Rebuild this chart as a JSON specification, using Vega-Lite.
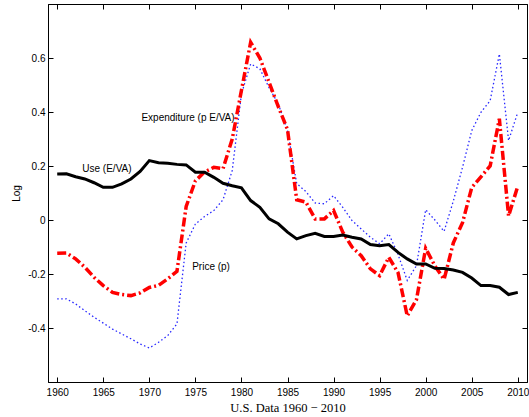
{
  "$schema": "https://vega.github.io/schema/vega-lite/v6.json",
  "width": 479,
  "height": 378,
  "autosize": "none",
  "padding": {"left": 48, "top": 4, "right": 2, "bottom": 35},
  "background": "white",
  "config": {
    "view": {"stroke": "black", "strokeWidth": 1},
    "axis": {
      "grid": false,
      "labelFont": "Liberation Sans",
      "labelFontSize": 10,
      "labelColor": "black",
      "domainColor": "black",
      "domainWidth": 1,
      "tickColor": "black",
      "tickSize": -5,
      "tickWidth": 1,
      "titleFont": "Liberation Sans",
      "titleFontWeight": "normal",
      "titleColor": "black"
    }
  },
  "data": {
    "values": [
      {"year": 1960, "use": 0.170, "price": -0.292, "exp": -0.123},
      {"year": 1961, "use": 0.171, "price": -0.292, "exp": -0.122},
      {"year": 1962, "use": 0.160, "price": -0.311, "exp": -0.144},
      {"year": 1963, "use": 0.152, "price": -0.336, "exp": -0.175},
      {"year": 1964, "use": 0.138, "price": -0.360, "exp": -0.212},
      {"year": 1965, "use": 0.121, "price": -0.382, "exp": -0.243},
      {"year": 1966, "use": 0.121, "price": -0.404, "exp": -0.268},
      {"year": 1967, "use": 0.134, "price": -0.422, "exp": -0.276},
      {"year": 1968, "use": 0.152, "price": -0.440, "exp": -0.280},
      {"year": 1969, "use": 0.180, "price": -0.459, "exp": -0.270},
      {"year": 1970, "use": 0.220, "price": -0.474, "exp": -0.250},
      {"year": 1971, "use": 0.212, "price": -0.453, "exp": -0.242},
      {"year": 1972, "use": 0.210, "price": -0.428, "exp": -0.218},
      {"year": 1973, "use": 0.206, "price": -0.385, "exp": -0.190},
      {"year": 1974, "use": 0.204, "price": -0.085, "exp": 0.050},
      {"year": 1975, "use": 0.177, "price": -0.015, "exp": 0.145},
      {"year": 1976, "use": 0.177, "price": 0.013, "exp": 0.178},
      {"year": 1977, "use": 0.158, "price": 0.035, "exp": 0.195},
      {"year": 1978, "use": 0.136, "price": 0.075, "exp": 0.190},
      {"year": 1979, "use": 0.127, "price": 0.183, "exp": 0.300},
      {"year": 1980, "use": 0.119, "price": 0.467, "exp": 0.480},
      {"year": 1981, "use": 0.072, "price": 0.578, "exp": 0.658},
      {"year": 1982, "use": 0.047, "price": 0.560, "exp": 0.600},
      {"year": 1983, "use": 0.004, "price": 0.490, "exp": 0.510},
      {"year": 1984, "use": -0.014, "price": 0.430, "exp": 0.420},
      {"year": 1985, "use": -0.045, "price": 0.331, "exp": 0.335},
      {"year": 1986, "use": -0.070, "price": 0.135, "exp": 0.075},
      {"year": 1987, "use": -0.058, "price": 0.105, "exp": 0.066},
      {"year": 1988, "use": -0.049, "price": 0.063, "exp": 0.004},
      {"year": 1989, "use": -0.061, "price": 0.060, "exp": 0.004},
      {"year": 1990, "use": -0.061, "price": 0.090, "exp": 0.035},
      {"year": 1991, "use": -0.056, "price": 0.047, "exp": -0.045},
      {"year": 1992, "use": -0.064, "price": -0.002, "exp": -0.100},
      {"year": 1993, "use": -0.070, "price": -0.033, "exp": -0.132},
      {"year": 1994, "use": -0.091, "price": -0.064, "exp": -0.181},
      {"year": 1995, "use": -0.095, "price": -0.088, "exp": -0.206},
      {"year": 1996, "use": -0.091, "price": -0.051, "exp": -0.138},
      {"year": 1997, "use": -0.120, "price": -0.128, "exp": -0.195},
      {"year": 1998, "use": -0.144, "price": -0.224, "exp": -0.355},
      {"year": 1999, "use": -0.163, "price": -0.169, "exp": -0.295},
      {"year": 2000, "use": -0.163, "price": 0.038, "exp": -0.105},
      {"year": 2001, "use": -0.179, "price": 0.000, "exp": -0.170},
      {"year": 2002, "use": -0.180, "price": -0.042, "exp": -0.220},
      {"year": 2003, "use": -0.185, "price": 0.070, "exp": -0.085},
      {"year": 2004, "use": -0.194, "price": 0.195, "exp": -0.010},
      {"year": 2005, "use": -0.215, "price": 0.331, "exp": 0.120},
      {"year": 2006, "use": -0.243, "price": 0.399, "exp": 0.160},
      {"year": 2007, "use": -0.243, "price": 0.442, "exp": 0.200},
      {"year": 2008, "use": -0.249, "price": 0.615, "exp": 0.375},
      {"year": 2009, "use": -0.276, "price": 0.294, "exp": 0.015},
      {"year": 2010, "use": -0.268, "price": 0.399, "exp": 0.125}
    ]
  },
  "resolve": {"axis": {"x": "independent", "y": "independent"}},
  "layer": [
    {
      "mark": {"type": "line", "color": "#0000FF", "strokeWidth": 1.3, "strokeDash": [1.5, 2.5], "opacity": 0.85},
      "encoding": {
        "x": {
          "field": "year", "type": "quantitative",
          "scale": {"domain": [1959, 2011], "nice": false, "zero": false},
          "axis": {"orient": "bottom", "values": [1960, 1965, 1970, 1975, 1980, 1985, 1990, 1995, 2000, 2005, 2010], "format": "d", "labelPadding": 10, "title": "U.S. Data 1960 − 2010", "titleFont": "Liberation Serif", "titleFontSize": 12.5, "titlePadding": 4}
        },
        "y": {
          "field": "price", "type": "quantitative",
          "scale": {"domain": [-0.6, 0.8], "nice": false, "zero": false},
          "axis": {"orient": "left", "values": [-0.4, -0.2, 0, 0.2, 0.4, 0.6], "labelExpr": "datum.value == 0 ? '0' : replace(format(datum.value, '.1f'), '−', '-')", "labelPadding": 8, "title": "Log", "titleFontSize": 10, "titlePadding": 6}
        }
      }
    },
    {
      "mark": {"type": "line", "color": "#FF0000", "strokeWidth": 3.5, "strokeDash": [9, 3, 2, 3]},
      "encoding": {
        "x": {"field": "year", "type": "quantitative", "axis": null},
        "y": {"field": "exp", "type": "quantitative", "axis": null}
      }
    },
    {
      "mark": {"type": "line", "color": "black", "strokeWidth": 3},
      "encoding": {
        "x": {"field": "year", "type": "quantitative", "axis": null},
        "y": {"field": "use", "type": "quantitative", "axis": null}
      }
    },
    {
      "mark": {"type": "line", "opacity": 0},
      "encoding": {
        "x": {"field": "year", "type": "quantitative", "axis": {"orient": "top", "values": [1960, 1965, 1970, 1975, 1980, 1985, 1990, 1995, 2000, 2005, 2010], "labels": false, "title": null}},
        "y": {"field": "use", "type": "quantitative", "axis": {"orient": "right", "values": [-0.4, -0.2, 0, 0.2, 0.4, 0.6], "labels": false, "title": null}}
      }
    },
    {
      "data": {"values": [{}]},
      "mark": {"type": "text", "font": "Liberation Sans", "fontSize": 10, "color": "black"},
      "encoding": {
        "x": {"datum": 1974.2, "type": "quantitative", "axis": null},
        "y": {"datum": 0.379, "type": "quantitative", "axis": null},
        "text": {"value": "Expenditure (p E/VA)"}
      }
    },
    {
      "data": {"values": [{}]},
      "mark": {"type": "text", "font": "Liberation Sans", "fontSize": 10, "color": "black"},
      "encoding": {
        "x": {"datum": 1965.4, "type": "quantitative", "axis": null},
        "y": {"datum": 0.19, "type": "quantitative", "axis": null},
        "text": {"value": "Use (E/VA)"}
      }
    },
    {
      "data": {"values": [{}]},
      "mark": {"type": "text", "font": "Liberation Sans", "fontSize": 10, "color": "black"},
      "encoding": {
        "x": {"datum": 1976.7, "type": "quantitative", "axis": null},
        "y": {"datum": -0.175, "type": "quantitative", "axis": null},
        "text": {"value": "Price (p)"}
      }
    }
  ]
}
